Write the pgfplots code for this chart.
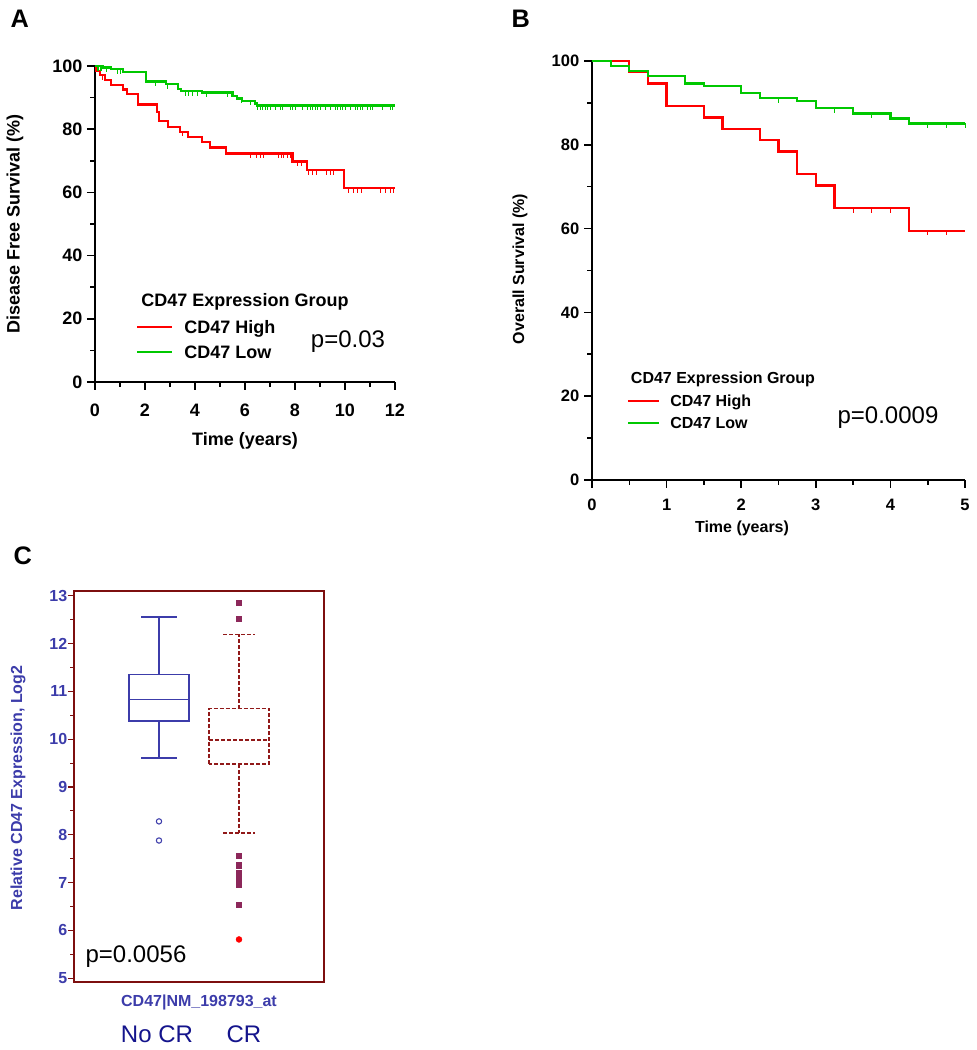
\documentclass[border=0pt]{standalone}
\usepackage{fontspec}
\setmainfont{Liberation Sans}
\usepackage{pgfplots}
\pgfplotsset{compat=1.18}
\usepgfplotslibrary{statistics}
\definecolor{kmgreen}{RGB}{0,200,0}
\definecolor{kmred}{RGB}{255,0,0}
\definecolor{cblue}{RGB}{60,60,170}
\definecolor{cdblue}{RGB}{20,20,140}
\definecolor{cframe}{RGB}{125,15,15}
\definecolor{cbox}{RGB}{145,25,25}
\definecolor{cout}{RGB}{140,40,90}
\begin{document}
\begin{tikzpicture}
\useasboundingbox (0pt,0pt) rectangle (732.75pt,787.5pt);
% ---------------- Panel A ----------------
\begin{axis}[at={(71.25pt,501pt)}, anchor=south west, scale only axis,
  width=225pt, height=237pt, xmin=0, xmax=12, ymin=0, ymax=100, clip=false,
  axis x line*=bottom, axis y line*=left,
  axis line style={line width=1.5pt},
  tick align=outside,
  xtick={0,2,...,12}, minor xtick={1,3,...,11},
  ytick={0,20,...,100}, minor ytick={10,30,...,90},
  major tick length=6pt, minor tick length=3.5pt,
  every tick/.style={black, line width=1.2pt},
  ticklabel style={font=\bfseries\fontsize{13.5}{15}\selectfont},
  xticklabel style={yshift=-7pt},
  /pgf/number format/assume math mode=true]
\addplot[const plot, kmred, line width=1.7pt] coordinates {
(0,100) (0.05,98.4) (0.2,97.2) (0.4,95.6) (0.65,94.1) (1.12,92.6) (1.28,91.1)
(1.72,87.8) (2.48,85.5) (2.55,82.5) (2.92,80.8) (3.39,79.2) (3.72,77.5)
(4.27,75.9) (4.6,74.2) (5.24,72.3) (7.9,69.8) (8.47,67.0) (9.96,61.4) (12,61.4)};
\addplot[const plot, kmgreen, line width=1.7pt] coordinates {
(0,100) (0.32,99.5) (0.65,99.0) (1.12,98.2) (2.05,95.1) (2.85,94.2) (3.32,92.8)
(3.45,92.1) (4.27,91.6) (5.5,90.5) (5.67,89.7) (5.87,89.0) (6.4,88.1) (6.47,87.5) (12,87.5)};
\addplot[only marks, mark=|, mark size=2pt, kmred,
  mark options={line width=0.6pt, yshift=-1.5pt}] coordinates {
(0.3,97.2) (2.45,87.8) (3.5,79.2) (6.2,72.3) (6.45,72.3) (6.6,72.3) (6.75,72.3)
(7.35,72.3) (7.45,72.3) (7.55,72.3) (7.7,72.3) (7.8,72.3) (8.1,69.8) (8.25,69.8)
(8.55,67.0) (8.7,67.0) (8.85,67.0) (9.25,67.0) (9.4,67.0) (9.55,67.0)
(10.15,61.4) (10.35,61.4) (10.5,61.4) (10.65,61.4) (11.4,61.4) (11.6,61.4) (11.8,61.4) (11.95,61.4)};
\addplot[only marks, mark=|, mark size=2pt, kmgreen,
  mark options={line width=0.6pt, yshift=-1.5pt}] coordinates {
(0.1,100) (0.15,100) (0.2,100) (0.27,100) (0.45,99.5) (0.9,99.0) (1.0,99.0)
(2.4,95.1) (2.9,94.2) (3.6,92.1) (3.75,92.1) (3.9,92.1) (4.1,92.1) (4.45,91.6)
(5.3,91.6) (5.85,89.7) (6.2,89.0)
(6.5,87.5) (6.6,87.5) (6.7,87.5) (6.8,87.5) (6.9,87.5) (7.0,87.5) (7.2,87.5)
(7.4,87.5) (7.5,87.5) (7.8,87.5) (7.9,87.5) (8.0,87.5) (8.3,87.5) (8.5,87.5)
(8.6,87.5) (8.7,87.5) (8.8,87.5) (8.9,87.5) (9.0,87.5) (9.2,87.5) (9.4,87.5)
(9.6,87.5) (9.7,87.5) (9.8,87.5) (9.9,87.5) (10.0,87.5) (10.2,87.5) (10.4,87.5)
(10.5,87.5) (10.6,87.5) (10.7,87.5) (10.9,87.5) (11.0,87.5) (11.1,87.5)
(11.5,87.5) (11.8,87.5) (11.9,87.5)};
\end{axis}
\node[anchor=base west, font=\bfseries\fontsize{19}{22}\selectfont] at (4.5pt,766.5pt) {A};
\node[rotate=90, font=\bfseries\fontsize{13.5}{16}\selectfont] at (11.25pt,619.5pt) {Disease Free Survival (\%)};
\node[font=\bfseries\fontsize{13.5}{16}\selectfont] at (183.75pt,456.75pt) {Time (years)};
\node[font=\bfseries\fontsize{13.5}{16}\selectfont] at (183.75pt,561pt) {CD47 Expression Group};
\draw[kmred, line width=0.9pt] (102.75pt,542.25pt) -- (129pt,542.25pt);
\draw[kmgreen, line width=0.9pt] (102.75pt,523.5pt) -- (129pt,523.5pt);
\node[anchor=base west, inner sep=0pt, font=\bfseries\fontsize{13.5}{16}\selectfont] at (138pt,537.4pt) {CD47 High};
\node[anchor=base west, inner sep=0pt, font=\bfseries\fontsize{13.5}{16}\selectfont] at (138pt,518.7pt) {CD47 Low};
\node[font=\fontsize{18}{20}\selectfont] at (261pt,531pt) {p=0.03};
% ---------------- Panel B ----------------
\begin{axis}[at={(444pt,427.5pt)}, anchor=south west, scale only axis,
  width=279.75pt, height=314.25pt, xmin=0, xmax=5, ymin=0, ymax=100, clip=false,
  axis x line*=bottom, axis y line*=left,
  axis line style={line width=1.5pt},
  tick align=outside,
  xtick={0,1,...,5}, minor xtick={0.5,1.5,...,4.5},
  ytick={0,20,...,100}, minor ytick={10,30,...,90},
  major tick length=6pt, minor tick length=3.5pt,
  every tick/.style={black, line width=1.2pt},
  ticklabel style={font=\bfseries\fontsize{12.4}{14}\selectfont},
  xticklabel style={yshift=-5pt},
  /pgf/number format/assume math mode=true]
\addplot[const plot, kmred, line width=1.7pt] coordinates {
(0,100) (0.5,97.3) (0.75,94.6) (1.0,89.2) (1.5,86.5) (1.75,83.8) (2.25,81.1)
(2.5,78.4) (2.75,73.0) (3.0,70.3) (3.25,64.9) (4.25,59.5) (5,59.5)};
\addplot[const plot, kmgreen, line width=1.7pt] coordinates {
(0,100) (0.25,98.8) (0.5,97.6) (0.75,96.4) (1.25,94.6) (1.5,94.0) (2.0,92.3)
(2.25,91.1) (2.75,90.5) (3.0,88.7) (3.5,87.5) (4.0,86.3) (4.25,85.1) (5,85.1)};
\addplot[only marks, mark=|, mark size=2pt, kmred,
  mark options={line width=0.6pt, yshift=-1.5pt}] coordinates {
(3.5,64.9) (3.75,64.9) (4.0,64.9) (4.5,59.5) (4.75,59.5)};
\addplot[only marks, mark=|, mark size=2pt, kmgreen,
  mark options={line width=0.6pt, yshift=-1.5pt}] coordinates {
(2.5,91.1) (3.25,88.7) (3.75,87.5) (4.5,85.1) (4.75,85.1) (5,85.1)};
\end{axis}
\node[anchor=base west, font=\bfseries\fontsize{19}{22}\selectfont] at (380.25pt,766.5pt) {B};
\node[rotate=90, font=\bfseries\fontsize{12}{14}\selectfont] at (390pt,585.75pt) {Overall Survival (\%)};
\node[font=\bfseries\fontsize{12}{14}\selectfont] at (556.5pt,391.5pt) {Time (years)};
\node[font=\bfseries\fontsize{12}{14}\selectfont] at (542.25pt,503.25pt) {CD47 Expression Group};
\draw[kmred, line width=0.9pt] (471pt,486.75pt) -- (494.25pt,486.75pt);
\draw[kmgreen, line width=0.9pt] (471pt,470.25pt) -- (494.25pt,470.25pt);
\node[anchor=base west, inner sep=0pt, font=\bfseries\fontsize{12}{14}\selectfont] at (502.5pt,482.45pt) {CD47 High};
\node[anchor=base west, inner sep=0pt, font=\bfseries\fontsize{12}{14}\selectfont] at (502.5pt,465.95pt) {CD47 Low};
\node[font=\fontsize{18}{20}\selectfont] at (666pt,474pt) {p=0.0009};
% ---------------- Panel C ----------------
\begin{axis}[at={(55.5pt,51pt)}, anchor=south west, scale only axis,
  width=187.5pt, height=293.25pt, xmin=-0.0625, xmax=3.0625, ymin=4.92, ymax=13.1,
  xtick=\empty, ytick={5,...,13}, minor ytick={5.5,6.5,...,12.5}, ytick pos=left,
  tick align=outside,
  axis line style={cframe, line width=1.5pt},
  every tick/.style={cframe, line width=0.8pt},
  major tick length=4.5pt, minor tick length=3pt,
  yticklabel style={cblue, font=\bfseries\fontsize{12}{14}\selectfont, xshift=3pt},
  /pgf/number format/assume math mode=true,
  boxplot/draw direction=y]
\addplot[boxplot prepared={median=10.83, upper quartile=11.35, lower quartile=10.38,
  upper whisker=12.56, lower whisker=9.61, draw position=1, box extend=0.75, whisker extend=0.45,
  every median/.style={line width=1.2pt}},
  draw=cblue, line width=1.2pt, mark=o, mark size=2pt, mark options={cblue, line width=0.8pt}]
  table[row sep=\\, y index=0] {8.28\\ 7.88\\};
\addplot[boxplot prepared={median=9.98, upper quartile=10.64, lower quartile=9.48,
  upper whisker=12.19, lower whisker=8.04, draw position=2, box extend=0.75, whisker extend=0.4,
  every median/.style={line width=1.1pt}},
  draw=cbox, line width=1.1pt, dash pattern=on 3pt off 1.5pt,
  mark=square*, mark size=1.8pt, mark options={solid, draw=cout, fill=cout}]
  table[row sep=\\, y index=0] {12.85\\ 12.52\\ 7.55\\ 7.36\\ 7.19\\ 7.07\\ 6.96\\ 6.53\\};
\addplot[only marks, mark=*, mark size=2.2pt, red] coordinates {(2,5.81)};
\end{axis}
\node[anchor=base west, font=\bfseries\fontsize{19}{22}\selectfont] at (6.75pt,363.75pt) {C};
\node[rotate=90, text=cblue, font=\bfseries\fontsize{12}{14}\selectfont] at (13.5pt,196.5pt) {Relative CD47 Expression, Log2};
\node[text=cblue, font=\bfseries\fontsize{12}{14}\selectfont] at (149.25pt,36pt) {CD47|NM\_198793\_at};
\node[text=cdblue, font=\fontsize{18}{20}\selectfont] at (117.75pt,12pt) {No CR};
\node[text=cdblue, font=\fontsize{18}{20}\selectfont] at (183pt,12pt) {CR};
\node[font=\fontsize{18}{20}\selectfont] at (102pt,69.75pt) {p=0.0056};
\end{tikzpicture}
\end{document}
